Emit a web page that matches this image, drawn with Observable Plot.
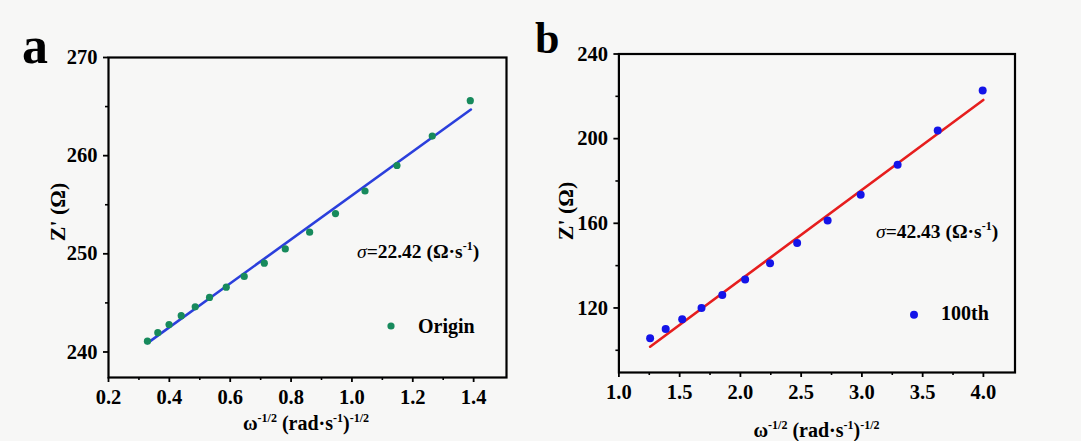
<!DOCTYPE html>
<html><head><meta charset="utf-8">
<script src="https://cdn.jsdelivr.net/npm/d3@7"></script>
<script src="https://cdn.jsdelivr.net/npm/@observablehq/plot@0.6"></script>
<style>
html,body{margin:0;padding:0;background:#f7f7f6;}
#wrap{position:relative;width:1081px;height:441px;overflow:hidden;background:#f7f7f6;}
#pa{position:absolute;left:0;top:0;width:530px;height:441px;}
#pb{position:absolute;left:530px;top:0;width:551px;height:441px;}
svg text{font-family:"Liberation Serif","Times New Roman",serif;}
</style></head><body><div id="wrap"><div id="pa"></div><div id="pb"></div></div>
<script>
// ---- Panel a data (Origin) ----
const seriesA = "Origin";
const sigmaA = "22.42";
const xA = [0.328,0.362,0.399,0.439,0.485,0.532,0.587,0.646,0.712,0.781,0.861,0.946,1.043,1.148,1.264,1.389];
const yA = [241.1,241.97,242.8,243.7,244.6,245.56,246.6,247.7,249.05,250.5,252.2,254.1,256.4,259.0,262.0,265.6];
const fitAx = [0.328,1.391];
const fitAy = [240.9,264.7];
const xTicksA = [0.2,0.4,0.6,0.8,1.0,1.2,1.4];
const xMinorA = [0.3,0.5,0.7,0.9,1.1,1.3];
const yTicksA = [240,250,260,270];
const yMinorA = [245,255,265];

// ---- Panel b data (100th) ----
const seriesB = "100th";
const sigmaB = "42.43";
const xB = [1.257,1.385,1.521,1.680,1.851,2.039,2.244,2.467,2.718,2.990,3.294,3.624,3.994];
const yB = [105.7,110.1,114.65,120.0,126.1,133.4,141.1,150.7,161.3,173.5,187.7,203.9,222.7];
const fitBx = [1.257,3.999];
const fitBy = [101.7,218.3];
const xTicksB = [1.0,1.5,2.0,2.5,3.0,3.5,4.0];
const xMinorB = [1.25,1.75,2.25,2.75,3.25,3.75];
const yTicksB = [120,160,200,240];
const yMinorB = [100,140,180,220];

function rich(svg, x, y, segs, {size = 18, anchor = "start", rotate = null} = {}) {
  const t = d3.select(svg).append("text")
    .attr("text-anchor", anchor).attr("font-size", size)
    .attr("font-weight", "bold").attr("fill", "black");
  if (rotate != null) t.attr("transform", `translate(${x},${y}) rotate(${rotate})`);
  else t.attr("x", x).attr("y", y);
  let shift = 0;
  for (const s of segs) {
    const target = s.sup ? -0.42 * size : 0;
    const sp = t.append("tspan").attr("dy", target - shift)
      .attr("font-size", s.sup ? Math.round(size * 0.62) : size)
      .text(s.t);
    if (s.italic) sp.attr("font-style", "italic").attr("font-weight", "normal");
    shift = target;
  }
  return t;
}

function panel(o) {
  const idx = d3.range(o.xs.length);
  const fidx = d3.range(o.fx.length);
  const svg = Plot.plot({
    width: o.width, height: 441,
    marginLeft: o.ml, marginRight: o.mr, marginTop: o.mt, marginBottom: o.mb,
    x: {domain: o.xDomain},
    y: {domain: o.yDomain},
    style: {background: "transparent", fontFamily: "'Liberation Serif', serif", fontSize: "20.5px", fontWeight: "bold", color: "black", overflow: "visible"},
    marks: [
      Plot.axisX({ticks: o.xMinor, tickSize: 3, tickFormat: () => "", label: null, strokeWidth: 1.6}),
      Plot.axisX({ticks: o.xTicks, tickSize: 5, tickPadding: 7, tickFormat: d3.format(".1f"), label: null, strokeWidth: 1.8, fill: "black", fontSize: 20.5}),
      Plot.axisY({ticks: o.yMinor, tickSize: 3, tickFormat: () => "", label: null, strokeWidth: 1.6}),
      Plot.axisY({ticks: o.yTicks, tickSize: 5, tickPadding: 6, tickFormat: d3.format("d"), label: null, strokeWidth: 1.8, fill: "black", fontSize: 20.5}),
      Plot.line(fidx, {x: i => o.fx[i], y: i => o.fy[i], stroke: o.lineColor, strokeWidth: 2.6}),
      Plot.dot(idx, {x: i => o.xs[i], y: i => o.ys[i], r: o.r, fill: o.dotColor}),
      Plot.frame({stroke: "black", strokeWidth: 2.2})
    ]
  });
  return svg;
}

// Panel a
const svgA = panel({width: 530, ml: 108, mr: 24, mt: 57, mb: 64,
  xDomain: [0.2, 1.508], yDomain: [237.4, 270],
  xs: xA, ys: yA, fx: fitAx, fy: fitAy, dotColor: "#178a5c", lineColor: "#2b3fdc", r: 3.6,
  xTicks: xTicksA, xMinor: xMinorA, yTicks: yTicksA, yMinor: yMinorA});
document.getElementById("pa").appendChild(svgA);
rich(svgA, 22, 63, [{t: "a"}], {size: 52});
rich(svgA, 65, 212, [{t: "Z' (Ω)"}], {size: 22, anchor: "middle", rotate: -90});
rich(svgA, 306, 430, [{t: "ω"}, {t: "-1/2", sup: true}, {t: " (rad·s"}, {t: "-1", sup: true}, {t: ")"}, {t: "-1/2", sup: true}], {size: 20, anchor: "middle"});
rich(svgA, 357, 258, [{t: "σ", italic: true}, {t: "=" + sigmaA + " (Ω·s"}, {t: "-1", sup: true}, {t: ")"}], {size: 19.5});
d3.select(svgA).append("circle").attr("cx", 391).attr("cy", 326).attr("r", 3.6).attr("fill", "#178a5c");
rich(svgA, 418, 333, [{t: seriesA}], {size: 20});

// Panel b
const svgB = panel({width: 551, ml: 88.4, mr: 66.5, mt: 53.5, mb: 69,
  xDomain: [1.0, 4.26], yDomain: [89.5, 240],
  xs: xB, ys: yB, fx: fitBx, fy: fitBy, dotColor: "#1414e8", lineColor: "#e61e1e", r: 4,
  xTicks: xTicksB, xMinor: xMinorB, yTicks: yTicksB, yMinor: yMinorB});
document.getElementById("pb").appendChild(svgB);
rich(svgB, 5, 53, [{t: "b"}], {size: 44});
rich(svgB, 43, 211, [{t: "Z' (Ω)"}], {size: 22, anchor: "middle", rotate: -90});
rich(svgB, 286.5, 437, [{t: "ω"}, {t: "-1/2", sup: true}, {t: " (rad·s"}, {t: "-1", sup: true}, {t: ")"}, {t: "-1/2", sup: true}], {size: 20, anchor: "middle"});
rich(svgB, 346, 238, [{t: "σ", italic: true}, {t: "=" + sigmaB + " (Ω·s"}, {t: "-1", sup: true}, {t: ")"}], {size: 19.5});
d3.select(svgB).append("circle").attr("cx", 384).attr("cy", 314.7).attr("r", 4).attr("fill", "#1414e8");
rich(svgB, 411, 320, [{t: seriesB}], {size: 20});
</script></body></html>
